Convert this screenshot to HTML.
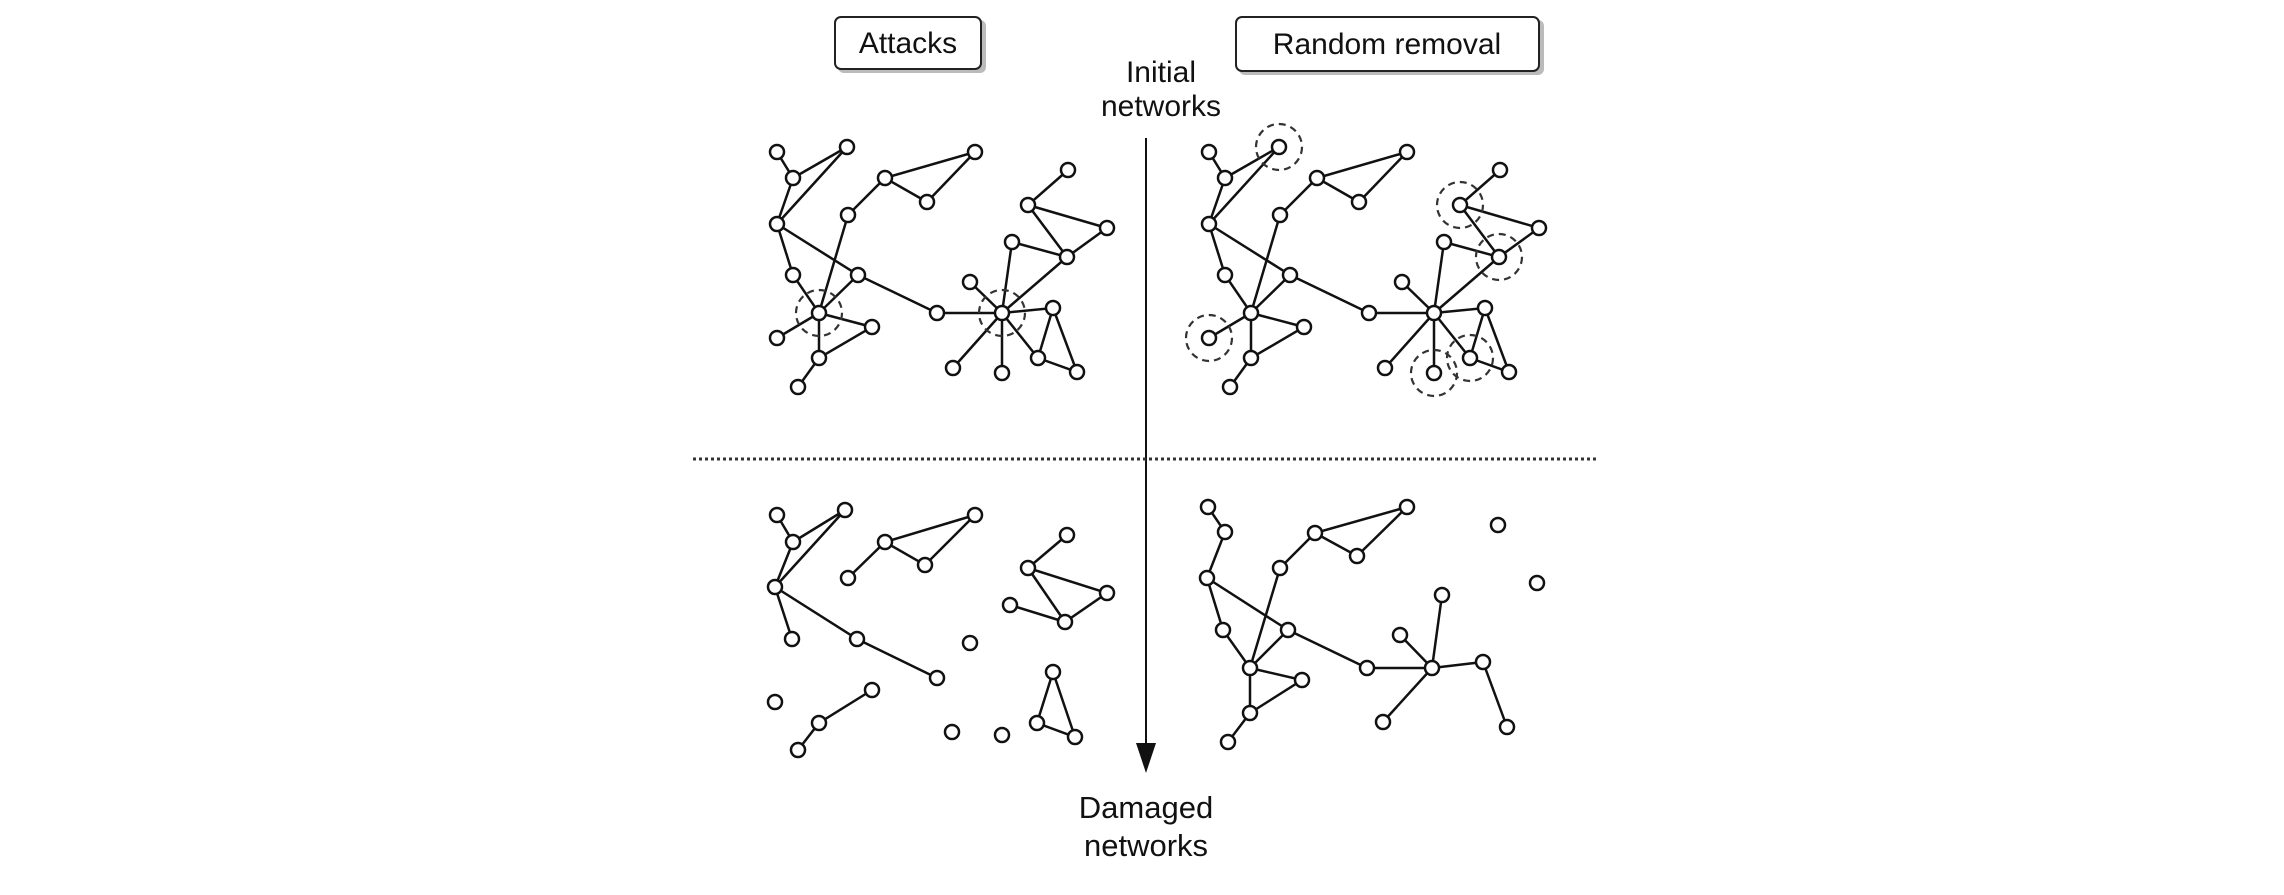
<!DOCTYPE html>
<html><head><meta charset="utf-8"><style>
html,body{margin:0;padding:0;background:#fff;}
svg{display:block;}
text{font-family:"Liberation Sans",Arial,sans-serif;fill:#111;}
</style></head><body>
<svg width="2284" height="895" viewBox="0 0 2284 895" xmlns="http://www.w3.org/2000/svg">
<!-- header boxes -->
<rect x="838" y="20" width="148" height="53" rx="6" fill="#bbb"/>
<rect x="835" y="17" width="146" height="52" rx="6" fill="#fff" stroke="#222" stroke-width="2"/>
<text x="908" y="53" font-size="30" text-anchor="middle">Attacks</text>
<rect x="1239" y="20" width="305" height="55" rx="6" fill="#bbb"/>
<rect x="1236" y="17" width="303" height="54" rx="6" fill="#fff" stroke="#222" stroke-width="2"/>
<text x="1387" y="54" font-size="30" text-anchor="middle">Random removal</text>
<text x="1161" y="82" font-size="30" text-anchor="middle">Initial</text>
<text x="1161" y="116" font-size="30" text-anchor="middle">networks</text>
<text x="1146" y="818" font-size="31" text-anchor="middle">Damaged</text>
<text x="1146" y="856" font-size="31" text-anchor="middle">networks</text>
<line x1="1146" y1="138" x2="1146" y2="748" stroke="#111" stroke-width="2"/>
<polygon points="1136,743 1156,743 1146,773" fill="#111"/>
<line x1="693" y1="459" x2="1598" y2="459" stroke="#333" stroke-width="3" stroke-dasharray="3 3"/>

<g stroke="#111" stroke-width="2.5" fill="none">
<!-- TL edges -->
<path d="M777,152L793,178L847,147L777,224L793,178 M777,224L793,275L819,313L858,275L777,224 M819,313L848,215L885,178L975,152L927,202L885,178 M819,313L872,327L819,358L819,313L777,338 M819,358L798,387 M858,275L937,313L1002,313 M1002,313L970,282 M1002,313L1012,242L1067,257L1028,205L1068,170 M1028,205L1107,228L1067,257L1002,313 M1002,313L1053,308L1038,358L1002,313 M1053,308L1077,372L1038,358 M1002,313L953,368 M1002,313L1002,373"/>
<!-- TR edges -->
<path d="M1209,152L1225,178L1279,147L1209,224L1225,178 M1209,224L1225,275L1251,313L1290,275L1209,224 M1251,313L1280,215L1317,178L1407,152L1359,202L1317,178 M1251,313L1304,327L1251,358L1251,313L1209,338 M1251,358L1230,387 M1290,275L1369,313L1434,313 M1434,313L1402,282 M1434,313L1444,242L1499,257L1460,205L1500,170 M1460,205L1539,228L1499,257L1434,313 M1434,313L1485,308L1470,358L1434,313 M1485,308L1509,372L1470,358 M1434,313L1385,368 M1434,313L1434,373"/>
<!-- BL edges -->
<path d="M777,515L793,542L845,510L775,587L793,542 M775,587L792,639 M775,587L857,639L937,678 M848,578L885,542L975,515L925,565L885,542 M872,690L819,723L798,750 M1067,535L1028,568L1107,593L1065,622L1028,568 M1010,605L1065,622 M1053,672L1037,723L1075,737L1053,672"/>
<!-- BR edges -->
<path d="M1208,507L1225,532L1207,578L1223,630L1250,668L1288,630L1207,578 M1250,668L1280,568L1315,533L1407,507L1357,556L1315,533 M1250,668L1302,680L1250,713L1250,668 M1250,713L1228,742 M1288,630L1367,668L1432,668L1400,635 M1432,668L1442,595 M1432,668L1483,662L1507,727 M1432,668L1383,722"/>
</g>

<g stroke="#111" stroke-width="2.5" fill="#fff">
<!-- TL nodes -->
<circle cx="777" cy="152" r="7"/><circle cx="847" cy="147" r="7"/><circle cx="793" cy="178" r="7"/><circle cx="777" cy="224" r="7"/><circle cx="885" cy="178" r="7"/><circle cx="975" cy="152" r="7"/><circle cx="927" cy="202" r="7"/><circle cx="848" cy="215" r="7"/><circle cx="793" cy="275" r="7"/><circle cx="858" cy="275" r="7"/><circle cx="819" cy="313" r="7"/><circle cx="872" cy="327" r="7"/><circle cx="777" cy="338" r="7"/><circle cx="819" cy="358" r="7"/><circle cx="798" cy="387" r="7"/><circle cx="937" cy="313" r="7"/><circle cx="1002" cy="313" r="7"/><circle cx="1068" cy="170" r="7"/><circle cx="1028" cy="205" r="7"/><circle cx="1107" cy="228" r="7"/><circle cx="1012" cy="242" r="7"/><circle cx="1067" cy="257" r="7"/><circle cx="970" cy="282" r="7"/><circle cx="1053" cy="308" r="7"/><circle cx="953" cy="368" r="7"/><circle cx="1002" cy="373" r="7"/><circle cx="1038" cy="358" r="7"/><circle cx="1077" cy="372" r="7"/>
<!-- TR nodes -->
<circle cx="1209" cy="152" r="7"/><circle cx="1279" cy="147" r="7"/><circle cx="1225" cy="178" r="7"/><circle cx="1209" cy="224" r="7"/><circle cx="1317" cy="178" r="7"/><circle cx="1407" cy="152" r="7"/><circle cx="1359" cy="202" r="7"/><circle cx="1280" cy="215" r="7"/><circle cx="1225" cy="275" r="7"/><circle cx="1290" cy="275" r="7"/><circle cx="1251" cy="313" r="7"/><circle cx="1304" cy="327" r="7"/><circle cx="1209" cy="338" r="7"/><circle cx="1251" cy="358" r="7"/><circle cx="1230" cy="387" r="7"/><circle cx="1369" cy="313" r="7"/><circle cx="1434" cy="313" r="7"/><circle cx="1500" cy="170" r="7"/><circle cx="1460" cy="205" r="7"/><circle cx="1539" cy="228" r="7"/><circle cx="1444" cy="242" r="7"/><circle cx="1499" cy="257" r="7"/><circle cx="1402" cy="282" r="7"/><circle cx="1485" cy="308" r="7"/><circle cx="1385" cy="368" r="7"/><circle cx="1434" cy="373" r="7"/><circle cx="1470" cy="358" r="7"/><circle cx="1509" cy="372" r="7"/>
<!-- BL nodes -->
<circle cx="777" cy="515" r="7"/><circle cx="845" cy="510" r="7"/><circle cx="793" cy="542" r="7"/><circle cx="775" cy="587" r="7"/><circle cx="885" cy="542" r="7"/><circle cx="975" cy="515" r="7"/><circle cx="925" cy="565" r="7"/><circle cx="848" cy="578" r="7"/><circle cx="792" cy="639" r="7"/><circle cx="857" cy="639" r="7"/><circle cx="937" cy="678" r="7"/><circle cx="775" cy="702" r="7"/><circle cx="872" cy="690" r="7"/><circle cx="819" cy="723" r="7"/><circle cx="798" cy="750" r="7"/><circle cx="970" cy="643" r="7"/><circle cx="952" cy="732" r="7"/><circle cx="1002" cy="735" r="7"/><circle cx="1067" cy="535" r="7"/><circle cx="1028" cy="568" r="7"/><circle cx="1107" cy="593" r="7"/><circle cx="1010" cy="605" r="7"/><circle cx="1065" cy="622" r="7"/><circle cx="1053" cy="672" r="7"/><circle cx="1037" cy="723" r="7"/><circle cx="1075" cy="737" r="7"/>
<!-- BR nodes -->
<circle cx="1208" cy="507" r="7"/><circle cx="1225" cy="532" r="7"/><circle cx="1207" cy="578" r="7"/><circle cx="1315" cy="533" r="7"/><circle cx="1407" cy="507" r="7"/><circle cx="1357" cy="556" r="7"/><circle cx="1280" cy="568" r="7"/><circle cx="1223" cy="630" r="7"/><circle cx="1288" cy="630" r="7"/><circle cx="1250" cy="668" r="7"/><circle cx="1302" cy="680" r="7"/><circle cx="1250" cy="713" r="7"/><circle cx="1228" cy="742" r="7"/><circle cx="1367" cy="668" r="7"/><circle cx="1432" cy="668" r="7"/><circle cx="1400" cy="635" r="7"/><circle cx="1442" cy="595" r="7"/><circle cx="1483" cy="662" r="7"/><circle cx="1507" cy="727" r="7"/><circle cx="1383" cy="722" r="7"/><circle cx="1498" cy="525" r="7"/><circle cx="1537" cy="583" r="7"/>
</g>

<!-- dashed highlight circles -->
<g stroke="#333" stroke-width="2.2" fill="none" stroke-dasharray="7 5">
<circle cx="819" cy="313" r="23"/><circle cx="1002" cy="313" r="23"/>
<circle cx="1279" cy="147" r="23"/><circle cx="1460" cy="205" r="23"/><circle cx="1499" cy="257" r="23"/><circle cx="1209" cy="338" r="23"/><circle cx="1434" cy="373" r="23"/><circle cx="1470" cy="358" r="23"/>
</g>
</svg>
</body></html>
